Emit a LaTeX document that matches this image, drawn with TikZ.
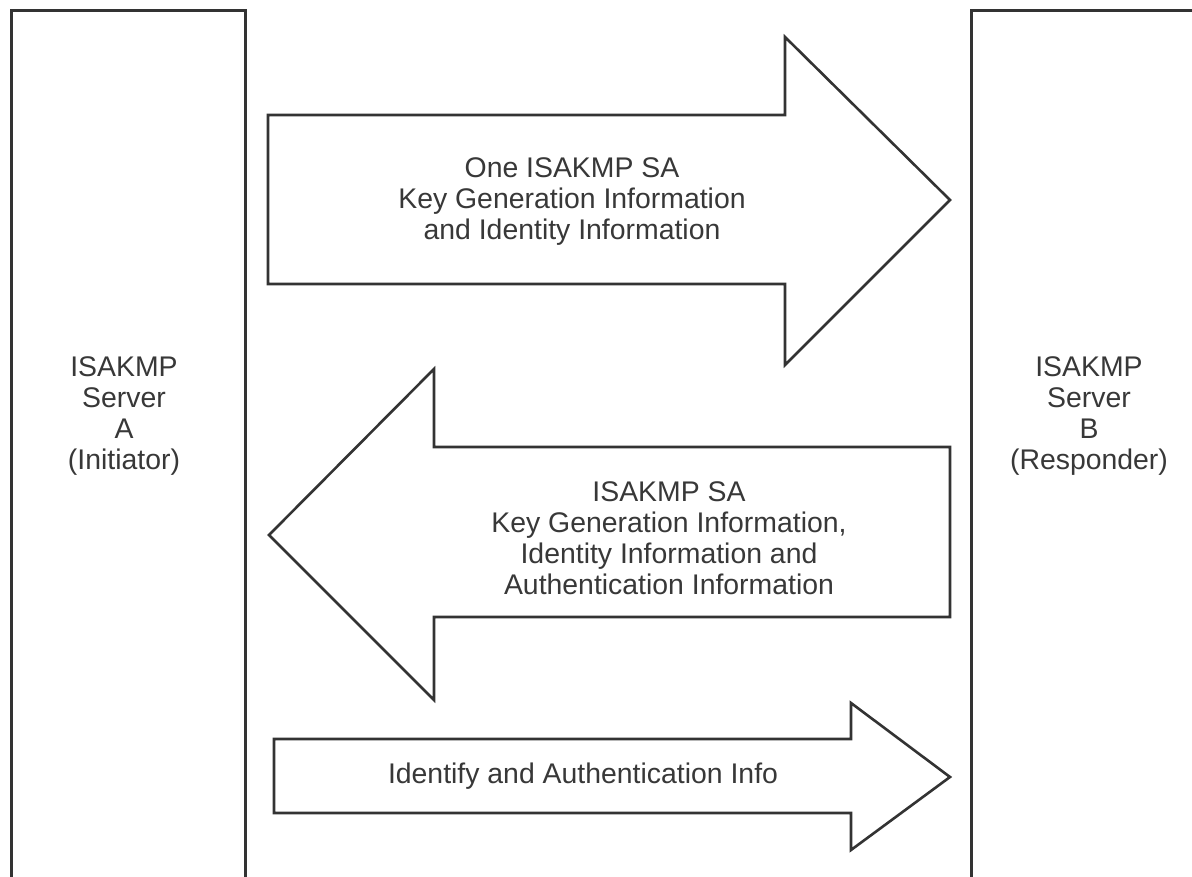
\documentclass[tikz,border=0pt]{standalone}
\usepackage{fontspec}
\setmainfont{Liberation Sans}
\definecolor{ink}{HTML}{333333}
\definecolor{txt}{HTML}{383838}
\tikzset{
  server/.style={draw=ink, line width=3pt, line join=miter},
  bigarrow/.style={draw=ink, line width=2.6pt, line join=miter, fill=white},
  lbl/.style={align=center, text=txt, inner sep=0pt, font=\fontsize{28.4}{31}\selectfont}
}
\begin{document}
\begin{tikzpicture}[x=1pt,y=-1pt]
\useasboundingbox[fill=white] (0,0) rectangle (1192,877);
% servers
\draw[server] (11,877) -- (11,11) -- (245,11) -- (245,877);
\draw[server] (971,877) -- (971,11) -- (1192,11);
\node[lbl] (srvA) at (124,416) {ISAKMP\\Server\\A\\(Initiator)};
\node[lbl] (srvB) at (1089,416) {ISAKMP\\Server\\B\\(Responder)};
% top arrow A -> B
\draw[bigarrow] (268,115) -- (785,115) -- (785,37) -- (950,200) -- (785,365) -- (785,284) -- (268,284) -- cycle;
\node[lbl] (msg1) at (572,202) {One ISAKMP SA\\Key Generation Information\\and Identity Information};
% middle arrow B -> A
\draw[bigarrow] (950,447) -- (434,447) -- (434,369) -- (269,535) -- (434,700) -- (434,617) -- (950,617) -- cycle;
\node[lbl] (msg2) at (669,538) {ISAKMP SA\\Key Generation Information,\\Identity Information and\\Authentication Information};
% bottom arrow A -> B
\draw[bigarrow] (274,739) -- (851,739) -- (851,703) -- (950,777) -- (851,850) -- (851,813) -- (274,813) -- cycle;
\node[lbl] (msg3) at (583,776) {Identify and Authentication Info};
\end{tikzpicture}
\end{document}
